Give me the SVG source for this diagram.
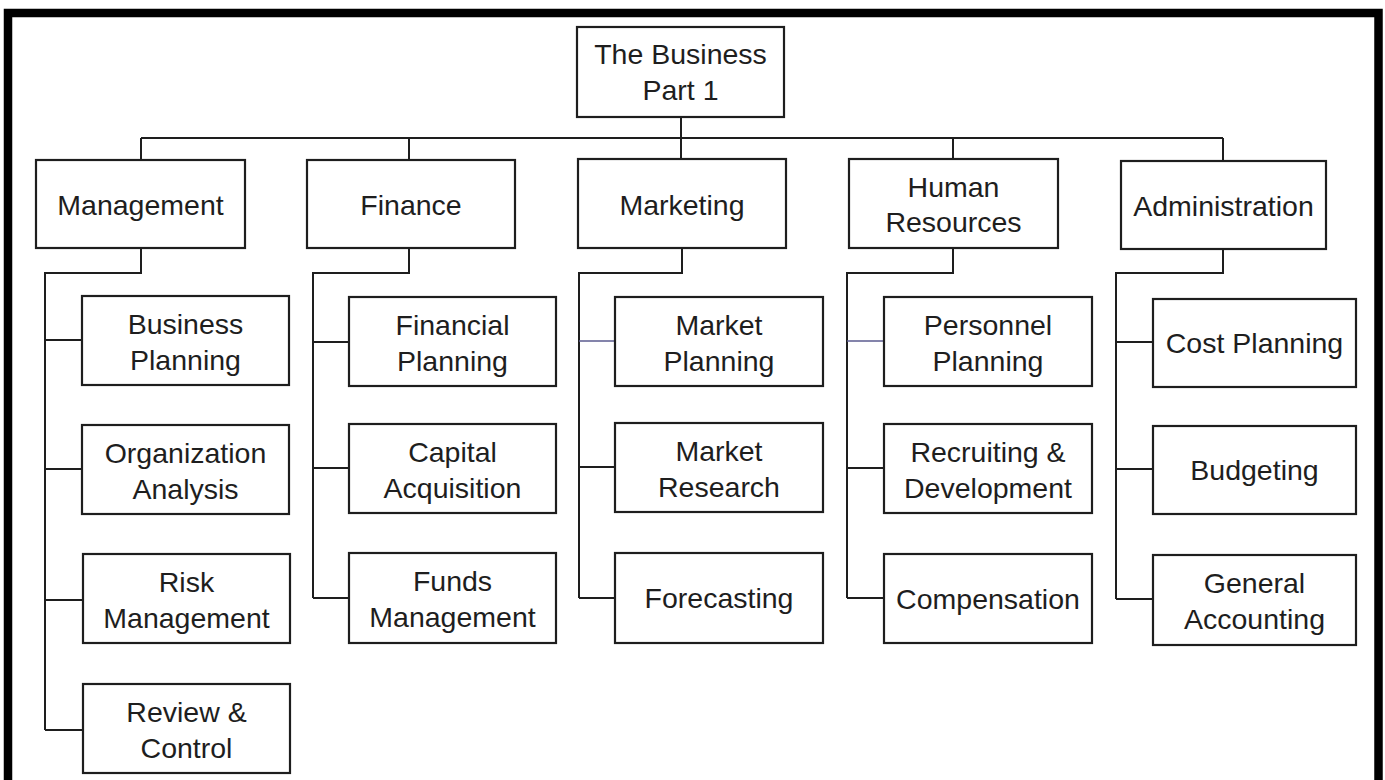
<svg xmlns="http://www.w3.org/2000/svg" width="1385" height="780" viewBox="0 0 1385 780">
<style>
.box{fill:#fff;stroke:#1e1e1e;stroke-width:2.2}
.lbl{font-family:"Liberation Sans",Arial,sans-serif;font-size:28.5px;fill:#1e1e1e;text-anchor:middle}
.wire{fill:none;stroke:#1e1e1e;stroke-width:2}
.wire2{fill:none;stroke:#5b5b8f;stroke-width:1.6}
.frame{fill:none;stroke:#000;stroke-width:8.5}
</style>
<rect x="0" y="0" width="1385" height="780" fill="#fff"/>
<path class="frame" d="M8 800 V13 H1378.5 V800"/>
<g id="connectors">
<path class="wire" d="M681 117 V159"/>
<path class="wire" d="M141 138 H1223"/>
<path class="wire" d="M141 138 V160 M409 138 V160 M953 138 V159 M1223 138 V161"/>
<path class="wire" d="M141 248 V273 H45 V730 M45 340 H82 M45 469 H82 M45 600 H83 M45 730 H83"/>
<path class="wire" d="M409 248 V273 H313 V598 M313 342 H349 M313 468 H349 M313 598 H349"/>
<path class="wire" d="M682 248 V273 H579 V598 M579 467 H615 M579 598 H615"/>
<path class="wire2" d="M579 341 H615"/>
<path class="wire" d="M953 248 V273 H847 V598 M847 468 H884 M847 598 H884"/>
<path class="wire2" d="M847 341 H884"/>
<path class="wire" d="M1223 249 V273 H1116 V599 M1116 342 H1153 M1116 469 H1153 M1116 599 H1153"/>
</g>
<g id="root"><rect class="box" x="577" y="27" width="207" height="90"/><text class="lbl" x="680.5" y="64">The Business</text><text class="lbl" x="680.5" y="100">Part 1</text></g>
<g id="management"><rect class="box" x="36" y="160" width="209" height="88"/><text class="lbl" x="140.5" y="215">Management</text></g>
<g id="finance"><rect class="box" x="307" y="160" width="208" height="88"/><text class="lbl" x="411" y="215">Finance</text></g>
<g id="marketing"><rect class="box" x="578" y="159" width="208" height="89"/><text class="lbl" x="682" y="215">Marketing</text></g>
<g id="hr"><rect class="box" x="849" y="159" width="209" height="89"/><text class="lbl" x="953.5" y="197">Human</text><text class="lbl" x="953.5" y="232">Resources</text></g>
<g id="administration"><rect class="box" x="1121" y="161" width="205" height="88"/><text class="lbl" x="1223.5" y="216">Administration</text></g>
<g id="business-planning"><rect class="box" x="82" y="296" width="207" height="89"/><text class="lbl" x="185.5" y="333.5">Business</text><text class="lbl" x="185.5" y="369.5">Planning</text></g>
<g id="organization-analysis"><rect class="box" x="82" y="425" width="207" height="89"/><text class="lbl" x="185.5" y="462.5">Organization</text><text class="lbl" x="185.5" y="498.5">Analysis</text></g>
<g id="risk-management"><rect class="box" x="83" y="554" width="207" height="89"/><text class="lbl" x="186.5" y="591.5">Risk</text><text class="lbl" x="186.5" y="627.5">Management</text></g>
<g id="review-control"><rect class="box" x="83" y="684" width="207" height="89"/><text class="lbl" x="186.5" y="721.5">Review &amp;</text><text class="lbl" x="186.5" y="757.5">Control</text></g>
<g id="financial-planning"><rect class="box" x="349" y="297" width="207" height="89"/><text class="lbl" x="452.5" y="334.5">Financial</text><text class="lbl" x="452.5" y="370.5">Planning</text></g>
<g id="capital-acquisition"><rect class="box" x="349" y="424" width="207" height="89"/><text class="lbl" x="452.5" y="461.5">Capital</text><text class="lbl" x="452.5" y="497.5">Acquisition</text></g>
<g id="funds-management"><rect class="box" x="349" y="553" width="207" height="90"/><text class="lbl" x="452.5" y="591">Funds</text><text class="lbl" x="452.5" y="627">Management</text></g>
<g id="market-planning"><rect class="box" x="615" y="297" width="208" height="89"/><text class="lbl" x="719" y="334.5">Market</text><text class="lbl" x="719" y="370.5">Planning</text></g>
<g id="market-research"><rect class="box" x="615" y="423" width="208" height="89"/><text class="lbl" x="719" y="460.5">Market</text><text class="lbl" x="719" y="496.5">Research</text></g>
<g id="forecasting"><rect class="box" x="615" y="553" width="208" height="90"/><text class="lbl" x="719" y="608">Forecasting</text></g>
<g id="personnel-planning"><rect class="box" x="884" y="297" width="208" height="89"/><text class="lbl" x="988" y="334.5">Personnel</text><text class="lbl" x="988" y="370.5">Planning</text></g>
<g id="recruiting-development"><rect class="box" x="884" y="424" width="208" height="89"/><text class="lbl" x="988" y="461.5">Recruiting &amp;</text><text class="lbl" x="988" y="497.5">Development</text></g>
<g id="compensation"><rect class="box" x="884" y="554" width="208" height="89"/><text class="lbl" x="988" y="608.5">Compensation</text></g>
<g id="cost-planning"><rect class="box" x="1153" y="299" width="203" height="88"/><text class="lbl" x="1254.5" y="353">Cost Planning</text></g>
<g id="budgeting"><rect class="box" x="1153" y="426" width="203" height="88"/><text class="lbl" x="1254.5" y="480">Budgeting</text></g>
<g id="general-accounting"><rect class="box" x="1153" y="555" width="203" height="90"/><text class="lbl" x="1254.5" y="592.5">General</text><text class="lbl" x="1254.5" y="628.5">Accounting</text></g>
</svg>
